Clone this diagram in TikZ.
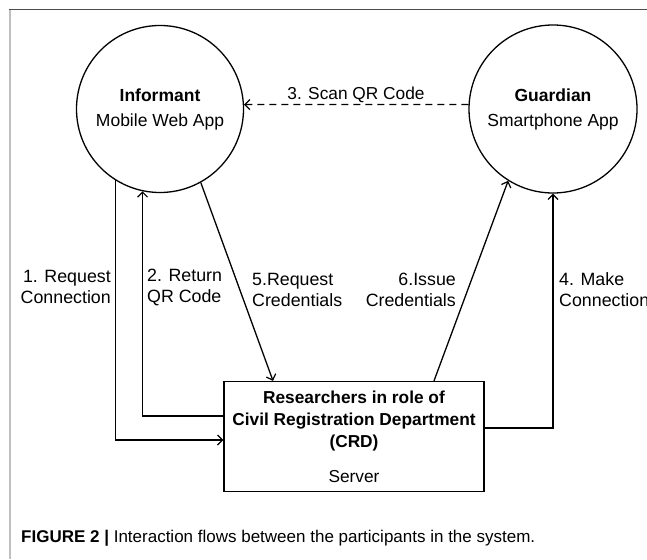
\documentclass[tikz,border=0pt]{standalone}
\usepackage{fontspec}
\setmainfont{Liberation Sans}
\usetikzlibrary{arrows.meta}
\begin{document}
\begin{tikzpicture}[x=1pt,y=-1pt,
  every node/.style={font=\fontsize{17.8}{21}\selectfont},
  party/.style={circle,draw,line width=1.3pt,minimum size=167pt,inner sep=0pt,align=center,font=\fontsize{17.5}{25}\selectfont},
  serverbox/.style={rectangle,draw,line width=1.3pt,minimum width=260pt,minimum height=110pt,inner sep=0pt,align=center,font=\fontsize{17.3}{22}\selectfont},
  lbl/.style={inner sep=0pt,align=left},
  flow/.style={line width=1.3pt,-{Straight Barb[length=5pt,width=10pt,line width=1.2pt]}},
  dashflow/.style={flow,dash pattern=on 7pt off 5pt}
]
\useasboundingbox (0,0) rectangle (647,559);
% frame
\draw[draw=black!70,line width=1pt] (9,9.5) -- (647,9.5);
\draw[draw=black!25,line width=2pt] (10,10) -- (10,559);

\node[party] (inf) at (160,109) {\textbf{Informant}\\Mobile Web App};
\node[party,minimum size=168pt] (guard) at (553,109) {\textbf{Guardian}\\Smartphone App};
\node[serverbox] (box) at (354,436.5) {\textbf{Researchers in role of}\\\textbf{Civil Registration Department}\\\textbf{(CRD)}\\[13pt]Server};

% 3 dashed
\draw[dashflow] (guard.177) -- (inf.3);
\node[lbl,font=\fontsize{17.3}{21}\selectfont] (l3) at (356,95) {3. Scan QR Code};

% 1
\draw[flow] (inf.-122) |- (box.west |- 0,440);
\node[lbl,anchor=east,align=right] (l1) at (111,287) {1. Request\\Connection};
% 2
\draw[flow] (box.west |- 0,416) -| (inf.-102.5);
\node[lbl,anchor=west] (l2) at (147,287) {2. Return\\QR Code};
% 5
\draw[flow] (inf.-61) -- (273,0 |- box.north);
\node[lbl,anchor=west] (l5) at (252,290) {5.Request\\Credentials};
% 6
\draw[flow] (434,0 |- box.north) -- (guard.-122);
\node[lbl,anchor=east,align=right] (l6) at (456,290) {6.Issue\\Credentials};
% 4
\draw[flow] (box.east |- 0,428) -| (guard.south);
\node[lbl,anchor=west] (l4) at (559,290) {4. Make\\Connection};

% caption
\node[inner sep=0pt,anchor=west,font=\fontsize{17}{20}\selectfont] (cap) at (21,538) {\textbf{FIGURE 2 |} Interaction flows between the participants in the system.};
\end{tikzpicture}
\end{document}
